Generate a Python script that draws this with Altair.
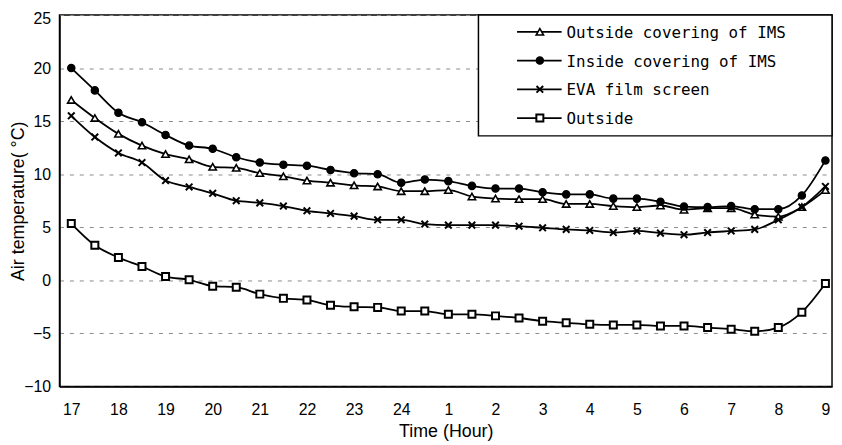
import json
import altair as alt
import pandas as pd

# elapsed hours from 17:00 (half-hour readings)
elapsed = [0, 0.5, 1, 1.5, 2, 2.5, 3, 3.5, 4, 4.5, 5, 5.5, 6, 6.5, 7, 7.5, 8, 8.5,
           9, 9.5, 10, 10.5, 11, 11.5, 12, 12.5, 13, 13.5, 14, 14.5, 15, 15.5, 16]
tick_labels = ["17", "18", "19", "20", "21", "22", "23", "24", "1", "2", "3",
               "4", "5", "6", "7", "8", "9"]
y_ticks = [-10, -5, 0, 5, 10, 15, 20, 25]

outside_covering = [17.0, 15.3, 13.8, 12.7, 11.9, 11.4, 10.7, 10.6, 10.1, 9.8, 9.4, 9.2,
                    8.95, 8.85, 8.4, 8.4, 8.5, 7.9, 7.7, 7.65, 7.65, 7.2,
                    7.2, 7.0, 6.9, 7.05, 6.65, 6.8, 6.8, 6.2, 6.0, 6.9, 8.5]
inside_covering = [20.0, 17.9, 15.8, 14.9, 13.7, 12.7, 12.4, 11.6, 11.1, 10.9, 10.8, 10.4,
                   10.1, 10.0, 9.2, 9.5, 9.35, 8.9, 8.65, 8.65, 8.3, 8.1,
                   8.1, 7.7, 7.7, 7.4, 6.95, 6.9, 7.0, 6.7, 6.7, 8.0, 11.3]
eva_screen = [15.5, 13.5, 12.0, 11.1, 9.4, 8.8, 8.2, 7.5, 7.3, 7.0, 6.55, 6.3,
              6.05, 5.7, 5.7, 5.3, 5.2, 5.2, 5.2, 5.1, 4.95, 4.8,
              4.7, 4.5, 4.65, 4.45, 4.3, 4.5, 4.65, 4.8, 5.7, 6.9, 8.85]
outside = [5.35, 3.3, 2.15, 1.3, 0.35, 0.05, -0.55, -0.65, -1.3, -1.7, -1.85, -2.35,
           -2.5, -2.55, -2.9, -2.9, -3.2, -3.2, -3.35, -3.55, -3.85, -4.0,
           -4.15, -4.2, -4.2, -4.3, -4.3, -4.45, -4.6, -4.8, -4.45, -3.0, -0.3]

series_names = ["Outside covering of IMS", "Inside covering of IMS", "EVA film screen", "Outside"]
series_values = [outside_covering, inside_covering, eva_screen, outside]

XPATH = "M-1,-1L1,1M-1,1L1,-1"
styles = {
    "Outside covering of IMS": dict(shape="triangle-up", fill="white", size=55, sw=1.6),
    "Inside covering of IMS": dict(shape="circle", fill="black", size=55, sw=1.2),
    "EVA film screen": dict(shape=XPATH, fill=None, size=45, sw=2.0),
    "Outside": dict(shape="square", fill="white", size=50, sw=2.0),
}

rows = []
for name, vals in zip(series_names, series_values):
    for t, v in zip(elapsed, vals):
        rows.append({"series": name, "t": t, "v": v})
df = pd.DataFrame(rows)

FONT = "Liberation Sans"
label_expr = json.dumps(tick_labels) + "[datum.value]"

W, H = 780, 375

x_enc = alt.X("t:Q",
              scale=alt.Scale(domain=[-0.25, 16.14], nice=False, zero=False),
              axis=alt.Axis(values=list(range(17)), labelExpr=label_expr,
                            title="Time (Hour)", grid=False, ticks=False,
                            labelPadding=15, titleX=390, titleY=46,
                            titleBaseline="middle"))
y_enc = alt.Y("v:Q",
              scale=alt.Scale(domain=[-10, 25], nice=False, zero=False),
              axis=alt.Axis(values=y_ticks, title="Air temperature( °C)",
                            grid=True, gridDash=[4, 6], gridColor="#8a8a8a",
                            gridWidth=1, ticks=False, labelPadding=9,
                            labelOffset={"condition": {"test": "datum.value == 25", "value": 4},
                                         "value": 0},
                            titleX=-41, titleY=H / 2, titleBaseline="middle"))

base = alt.Chart(df).encode(x=x_enc, y=y_enc)

layers = []
for name in series_names:
    st = styles[name]
    sub = base.transform_filter(alt.datum.series == name)
    layers.append(sub.mark_line(color="black", strokeWidth=1.8, interpolate="monotone"))
    if st["fill"] is None:
        pm = sub.mark_point(shape=st["shape"], filled=False, stroke="black",
                            strokeWidth=st["sw"], size=st["size"], opacity=1)
    else:
        pm = sub.mark_point(shape=st["shape"], filled=True, fill=st["fill"],
                            stroke="black", strokeWidth=st["sw"], size=st["size"],
                            opacity=1, fillOpacity=1)
    layers.append(pm)

# legend box
one = pd.DataFrame({"a": [0]})
layers.append(alt.Chart(one).mark_rect(fill="white", stroke="black", strokeWidth=1.5).encode(
    x=alt.value(423), x2=alt.value(W), y=alt.value(0), y2=alt.value(122)))

for i, name in enumerate(series_names):
    st = styles[name]
    yy = 17 + 29 * i
    d = pd.DataFrame({"label": [name]})
    layers.append(alt.Chart(d).mark_rule(color="black", strokeWidth=1.8).encode(
        x=alt.value(462), x2=alt.value(507), y=alt.value(yy)))
    if st["fill"] is None:
        pm = alt.Chart(d).mark_point(shape=st["shape"], filled=False, stroke="black",
                                     strokeWidth=st["sw"], size=st["size"], opacity=1)
    else:
        pm = alt.Chart(d).mark_point(shape=st["shape"], filled=True, fill=st["fill"],
                                     stroke="black", strokeWidth=st["sw"],
                                     size=st["size"], opacity=1, fillOpacity=1)
    layers.append(pm.encode(x=alt.value(485), y=alt.value(yy)))
    layers.append(alt.Chart(d).mark_text(align="left", baseline="middle",
                                         font="DejaVu Sans Mono", fontSize=16,
                                         color="black").encode(
        x=alt.value(512), y=alt.value(yy + 1), text="label:N"))

chart = alt.layer(*layers).properties(
    width=W, height=H,
    padding={"left": 52, "top": 5, "right": 2, "bottom": 55},
    autosize=alt.AutoSizeParams(type="none"),
).configure_view(stroke="black", strokeWidth=1.5).configure_axis(
    domainColor="black", domainWidth=1.5, labelFont=FONT, labelFontSize=16,
    labelColor="black", titleFont=FONT, titleFontSize=18, titleFontWeight="normal",
    titleColor="black",
)

chart.save("out.html", embed_options={"renderer": "svg", "actions": False})
